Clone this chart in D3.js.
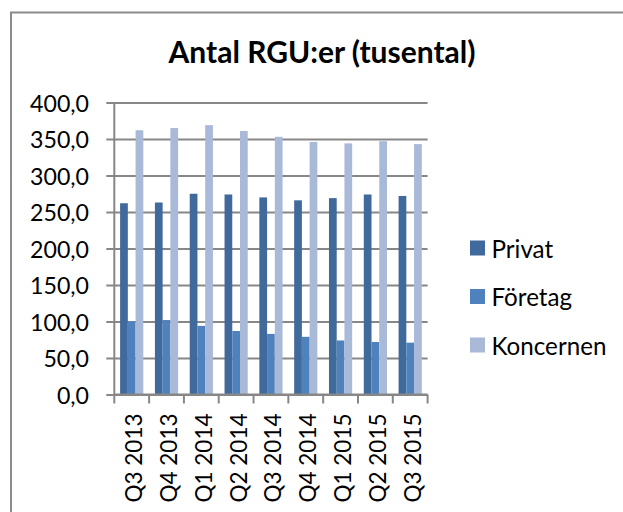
<!DOCTYPE html>
<html>
<head>
<meta charset="utf-8">
<script src="https://cdn.jsdelivr.net/npm/d3@7"></script>
<style>
  html, body { margin: 0; padding: 0; background: #fff; overflow: hidden; }
  svg { display: block; }
  text { font-family: Lato, "Open Sans", sans-serif; fill: #000; }
</style>
</head>
<body>
<svg id="chart" width="623" height="512"></svg>
<script>
const categories = ["Q3 2013","Q4 2013","Q1 2014","Q2 2014","Q3 2014","Q4 2014","Q1 2015","Q2 2015","Q3 2015"];
const seriesNames = ["Privat","Företag","Koncernen"];
const privat    = [262, 263, 275, 274, 270, 266, 269, 274, 272];
const foretag   = [100, 102,  94,  87,  83,  79,  74,  72,  71];
const koncernen = [362, 365, 369, 361, 353, 346, 344, 347, 343];
const yTicks = [0, 50, 100, 150, 200, 250, 300, 350, 400];
const titleText = "Antal RGU:er (tusental)";
const colors = ["#416A9C", "#4F81BD", "#A9B9D8"];

const seriesValues = [privat, foretag, koncernen];
const data = categories.map((c, i) => ({cat: c, vals: seriesNames.map((s, j) => ({s, v: seriesValues[j][i], j}))}));

const svg = d3.select("#chart");

// outer frame (left and top edges; the rest runs off the picture)
svg.append("path").attr("d", "M11,520V12.5H640")
  .attr("fill", "none").attr("stroke", "#8c8c8c").attr("stroke-width", 2);

const pLeft = 114.3, pRight = 427.6, pTop = 102.5, pBottom = 394.5;
const x0 = d3.scaleBand().domain(categories).range([pLeft, pRight]).padding(0);
const bw = x0.bandwidth();
const x1 = d3.scaleBand().domain(seriesNames).range([bw / 6, bw * 5 / 6]).padding(0);
const y = d3.scaleLinear().domain([0, 400]).range([pBottom, pTop]);

const fmt = d => d3.format(".1f")(d).replace(".", ",");

function fitText(sel, target) {
  sel.each(function() {
    const n = d3.select(this);
    const fs = parseFloat(n.style("font-size"));
    const w = this.getComputedTextLength();
    n.style("font-size", (fs * target / w) + "px");
  });
}

// gridlines via d3 axis
const yAxis = svg.append("g").attr("transform", `translate(${pLeft},0)`)
  .call(d3.axisLeft(y).tickValues(yTicks).tickSize(-(pRight - pLeft)).tickPadding(0).tickFormat(""));
yAxis.select(".domain").remove();
yAxis.selectAll(".tick line").attr("stroke", "#878787").attr("stroke-width", 2)
  .attr("x1", -8);

// y labels
const yl = svg.append("g").selectAll("text").data(yTicks).join("text")
  .attr("x", 89).attr("y", d => y(d)).attr("text-anchor", "end")
  .attr("dominant-baseline", "central").style("font-size", "23.5px").text(fmt);
fitText(yl.filter(d => d === 400), 59);
const yfs = yl.filter(d => d === 400).style("font-size");
yl.style("font-size", yfs);

// bars
const groups = svg.append("g").selectAll("g").data(data).join("g")
  .attr("transform", d => `translate(${x0(d.cat)},0)`);
groups.selectAll("rect").data(d => d.vals).join("rect")
  .attr("x", d => x1(d.s)).attr("width", x1.bandwidth())
  .attr("y", d => y(d.v)).attr("height", d => y(0) - y(d.v))
  .attr("fill", d => colors[d.j]);

// vertical axis line
svg.append("line").attr("x1", pLeft).attr("x2", pLeft).attr("y1", pTop).attr("y2", pBottom)
  .attr("stroke", "#878787").attr("stroke-width", 2);

// x axis
const xAxis = svg.append("g").attr("transform", `translate(0,${pBottom})`)
  .call(d3.axisBottom(x0).tickSize(0).tickFormat(""));
xAxis.select(".domain").attr("stroke", "#878787").attr("stroke-width", 2)
  .attr("d", `M${pLeft},0H${pRight}`);
xAxis.selectAll(".tick line").remove();
const tickPos = categories.map(c => x0(c)).concat([pRight]);
svg.append("g").selectAll("line").data(tickPos).join("line")
  .attr("x1", d => d).attr("x2", d => d).attr("y1", pBottom).attr("y2", pBottom + 9)
  .attr("stroke", "#878787").attr("stroke-width", 2);

// category labels
const cl = svg.append("g").selectAll("text").data(categories).join("text")
  .attr("transform", d => `translate(${x0(d) + bw / 2 + 2},${pBottom + 19}) rotate(-90)`)
  .attr("text-anchor", "end").attr("dominant-baseline", "central")
  .style("font-size", "23px").text(d => d);
fitText(cl.filter((d, i) => i === 0), 89);
cl.style("font-size", cl.filter((d, i) => i === 0).style("font-size"));

// title
const title = svg.append("text").attr("x", 322).attr("y", 63).attr("text-anchor", "middle")
  .style("font-size", "30px").style("font-weight", "bold").text(titleText);
fitText(title, 307);

// legend
const legend = svg.append("g").selectAll("g").data(seriesNames).join("g")
  .attr("transform", (d, i) => `translate(470,${240.5 + i * 48.5})`);
legend.append("rect").attr("width", 15).attr("height", 15).attr("fill", (d, i) => colors[i]);
const lt = legend.append("text").attr("x", 21.5).attr("y", 7.5).attr("dominant-baseline", "central")
  .style("font-size", "23px").text(d => d);
fitText(lt.filter(d => d === "Koncernen"), 115);
lt.style("font-size", lt.filter(d => d === "Koncernen").style("font-size"));
</script>
</body>
</html>
